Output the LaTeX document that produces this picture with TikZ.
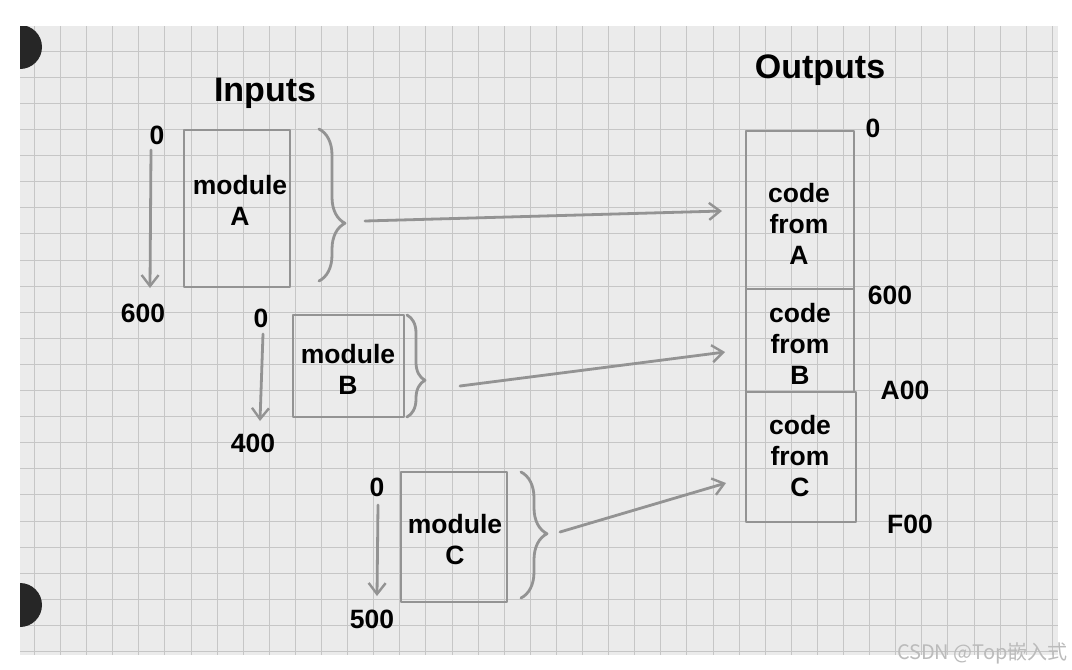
\documentclass[tikz,border=0pt]{standalone}
\usepackage{fontspec}
\setmainfont{Liberation Sans}
\newfontfamily\cjkfont{Noto Sans CJK SC}
\usetikzlibrary{arrows.meta,decorations.pathreplacing}
\definecolor{paper}{HTML}{EBEBEB}
\definecolor{gridc}{HTML}{C6C6C6}
\definecolor{pencil}{HTML}{939393}
\definecolor{wmk}{HTML}{BBBBBB}
\tikzset{
  pen/.style={draw=pencil, line width=2.8pt, line cap=round, line join=round},
  box/.style={pen, rectangle, inner sep=0pt},
  lbl/.style={font=\fontsize{26.5}{31}\selectfont\bfseries, text=black, inner sep=0pt, align=center},
  head/.style={font=\fontsize{34}{36}\selectfont\bfseries, text=black, inner sep=0pt},
  barb/.style={pen, -{Straight Barb[length=11pt,width=17pt,line width=2.4pt]}},
  bracedeco/.style n args={2}{pen, decorate, decoration={brace, amplitude=#1, aspect=#2}},
}
\begin{document}
\begin{tikzpicture}[x=1pt,y=-1pt]
\useasboundingbox (0,0) rectangle (1072,670);
\fill[white] (0,0) rectangle (1072,670);
% paper
\fill[paper] (20,26) rectangle (1058,655);
\begin{scope}
  \clip (20,26) rectangle (1058,655);
  \foreach \k in {0,...,39} {\draw[gridc, line width=0.8pt] ({34.3+26.1*\k},26) -- ({34.3+26.1*\k},655);}
  \foreach \k in {0,...,24} {\draw[gridc, line width=0.8pt] (20,{25+26.1*\k}) -- (1058,{25+26.1*\k});}
  \fill[black!85] (20,47) circle (22);
  \fill[black!85] (20,605) circle (22);
\end{scope}

% headers
\node[head] (inputs) at (265,93) {Inputs};
\node[head] (outputs) at (820,70) {Outputs};

% module boxes
\node[box, minimum width=106pt, minimum height=157pt] (mA) at (237,208.5) {};
\node[box, minimum width=111pt, minimum height=102pt] (mB) at (348.5,366) {};
\node[box, minimum width=106pt, minimum height=130pt] (mC) at (454,537) {};
\node[lbl] (tA) at (240,200) {module\\A};
\node[lbl] (tB) at (348,369) {module\\B};
\node[lbl] (tC) at (455,540) {module\\C};

% braces
\draw[bracedeco={26pt}{0.62}] (319,129) -- coordinate[pos=0.62] (bA) (319,281);
\draw[bracedeco={18pt}{0.64}] (407,315) -- coordinate[pos=0.64] (bB) (407,417);
\draw[bracedeco={26pt}{0.49}] (521,472) -- coordinate[pos=0.49] (bC) (521,598);

% address labels of inputs
\node[lbl] (a0) at (157,135) {0};
\node[lbl] (a600) at (143,313) {600};
\node[lbl] (b0) at (261,318) {0};
\node[lbl] (b400) at (253,443) {400};
\node[lbl] (c0) at (377,487) {0};
\node[lbl] (c500) at (372,619) {500};
\coordinate (a0s) at (151,150);
\coordinate (a0e) at (150,288);
\coordinate (b0s) at (263,334);
\coordinate (b0e) at (260,421);
\coordinate (c0s) at (378,505);
\coordinate (c0e) at (377,596);
\draw[barb] (a0s) -- (a0e);
\draw[barb] (b0s) -- (b0e);
\draw[barb] (c0s) -- (c0e);

% output column
\node[box, minimum width=108pt, minimum height=158pt] (oA) at (800,210) {};
\node[box, minimum width=108pt, minimum height=103pt] (oB) at (800,340.5) {};
\node[box, minimum width=110pt, minimum height=130pt] (oC) at (801,457) {};
\node[lbl] (toA) at (799,224) {code\\from\\A};
\node[lbl] (toB) at (800,344) {code\\from\\B};
\node[lbl] (toC) at (800,456) {code\\from\\C};
\node[lbl] (o0) at (873,128) {0};
\node[lbl] (o600) at (890,295) {600};
\node[lbl] (oA00) at (905,390) {A00};
\node[lbl] (oF00) at (910,524) {F00};

% arrows from modules to outputs
\coordinate (sA) at (365,221);
\coordinate (eA) at (722,211);
\coordinate (sB) at (460,386);
\coordinate (eB) at (725,352);
\coordinate (sC) at (560,532);
\coordinate (eC) at (726,483);
\draw[barb] (sA) -- (eA);
\draw[barb] (sB) -- (eB);
\draw[barb] (sC) -- (eC);

% watermark
\node[anchor=east, inner sep=0pt, font=\cjkfont\fontsize{20}{22}\selectfont, text=wmk] (wm) at (1068,653) {CSDN @Top嵌入式};
\end{tikzpicture}
\end{document}
